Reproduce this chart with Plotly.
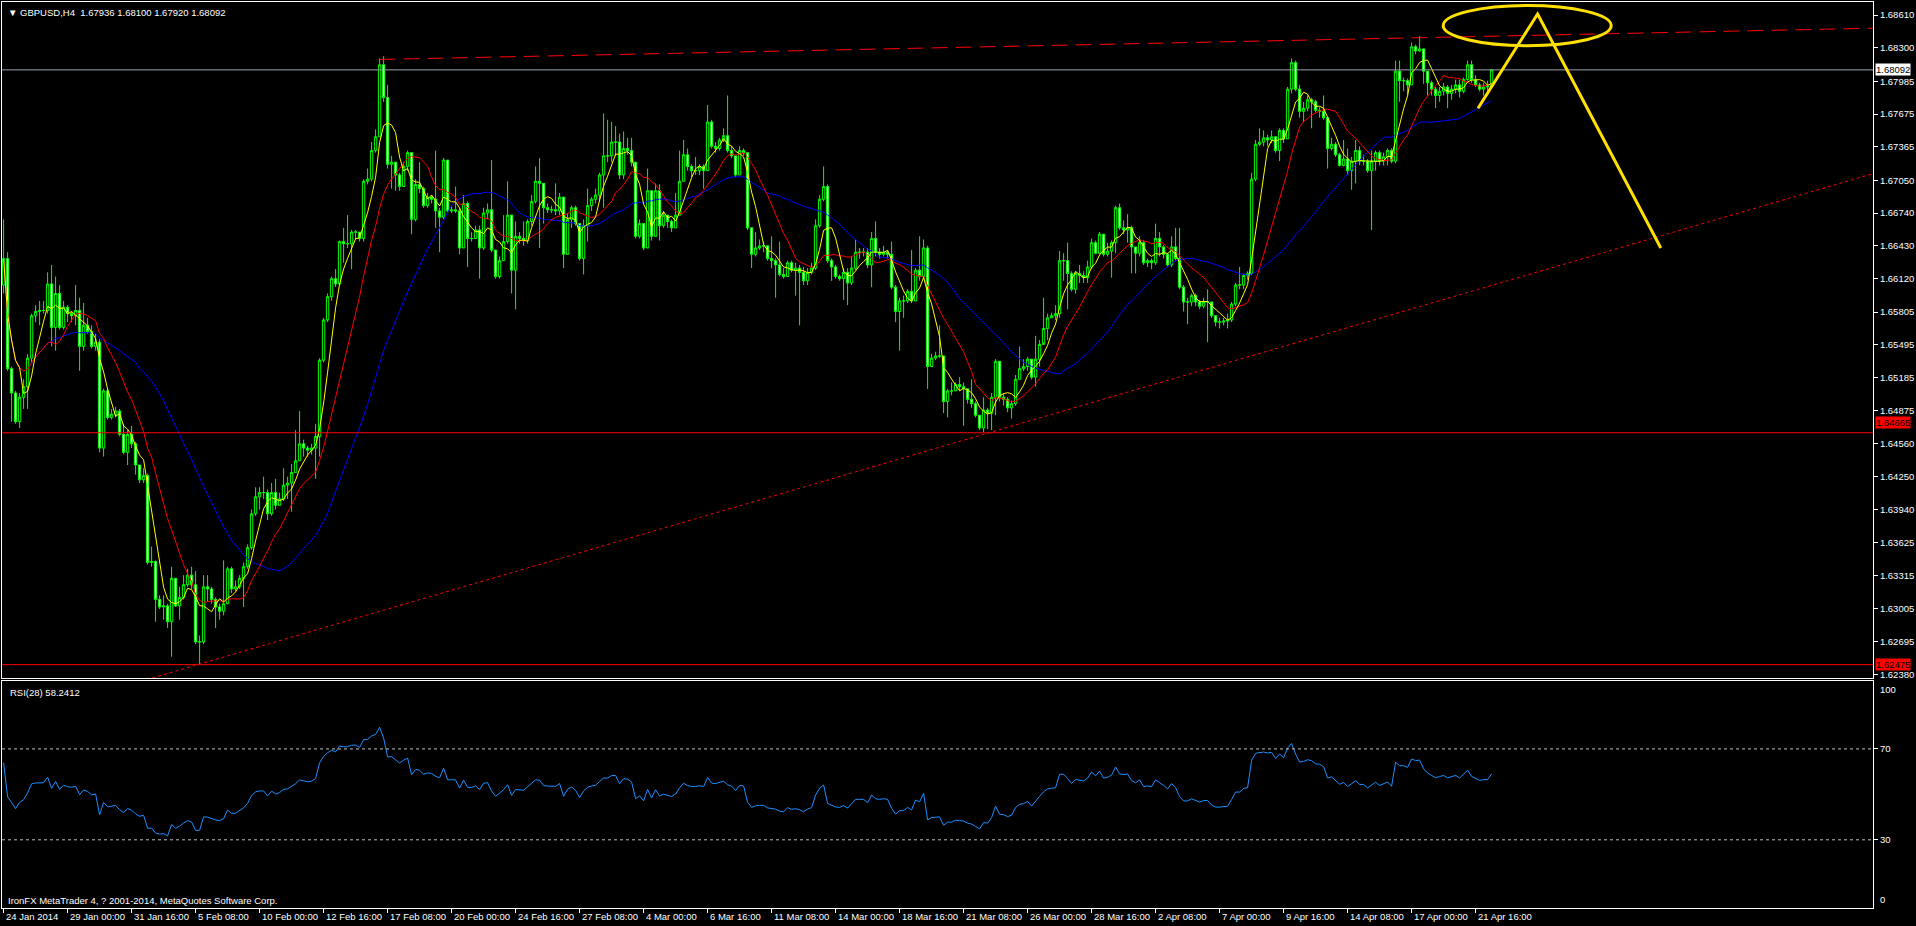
import plotly.graph_objects as go
import pandas as pd

# ---------------- text ----------------
title_text = "\u25BC GBPUSD,H4\u00a0\u00a01.67936 1.68100 1.67920 1.68092"
rsi_label = "RSI(28) 58.2412"
copyright_text = "IronFX MetaTrader 4, ? 2001-2014, MetaQuotes Software Corp."

time_labels = ["24 Jan 2014", "29 Jan 00:00", "31 Jan 16:00", "5 Feb 08:00", "10 Feb 00:00",
               "12 Feb 16:00", "17 Feb 08:00", "20 Feb 00:00", "24 Feb 16:00", "27 Feb 08:00",
               "4 Mar 00:00", "6 Mar 16:00", "11 Mar 08:00", "14 Mar 00:00", "18 Mar 16:00",
               "21 Mar 08:00", "26 Mar 00:00", "28 Mar 16:00", "2 Apr 08:00", "7 Apr 00:00",
               "9 Apr 16:00", "14 Apr 08:00", "17 Apr 00:00", "21 Apr 16:00"]
bars_per_label = 16

price_ticks = [1.68610, 1.68300, 1.67985, 1.67675, 1.67365, 1.67050, 1.66740, 1.66430,
               1.66120, 1.65805, 1.65495, 1.65185, 1.64875, 1.64560, 1.64250, 1.63940,
               1.63625, 1.63315, 1.63005, 1.62695, 1.62380]
rsi_ticks = [70, 30]

# ---------------- H4 candles (one row = 16 bars = one time label) ----------------
first_open = 1.6606
closes = [
    1.6631, 1.6527, 1.6504, 1.6477, 1.6500, 1.6510, 1.6537, 1.6577, 1.6581, 1.6582, 1.6582, 1.6607, 1.6566, 1.6598, 1.6566, 1.6585,
    1.6579, 1.6577, 1.6582, 1.6548, 1.6568, 1.6562, 1.6548, 1.6552, 1.6452, 1.6506, 1.6481, 1.6484, 1.6487, 1.6465, 1.6448, 1.6465,
    1.6456, 1.6436, 1.6422, 1.6426, 1.6344, 1.6345, 1.6309, 1.6302, 1.6303, 1.6288, 1.6329, 1.6303, 1.6311, 1.6323, 1.6332, 1.6323,
    1.6269, 1.6269, 1.6321, 1.6319, 1.6309, 1.6302, 1.6298, 1.6305, 1.6338, 1.6319, 1.6321, 1.6329, 1.6340, 1.6358, 1.6390, 1.6406,
    1.6410, 1.6410, 1.6390, 1.6410, 1.6398, 1.6404, 1.6417, 1.6419, 1.6429, 1.6440, 1.6456, 1.6452, 1.6450, 1.6452, 1.6463, 1.6535,
    1.6573, 1.6595, 1.6612, 1.6607, 1.6647, 1.6645, 1.6645, 1.6656, 1.6656, 1.6650, 1.6704, 1.6706, 1.6733, 1.6746, 1.6814, 1.6783,
    1.6720, 1.6722, 1.6710, 1.6699, 1.6718, 1.6731, 1.6668, 1.6701, 1.6697, 1.6681, 1.6689, 1.6687, 1.6676, 1.6670, 1.6724, 1.6676,
    1.6677, 1.6676, 1.6641, 1.6683, 1.6650, 1.6650, 1.6658, 1.6641, 1.6674, 1.6677, 1.6639, 1.6614, 1.6629, 1.6647, 1.6672, 1.6620,
    1.6652, 1.6650, 1.6648, 1.6666, 1.6685, 1.6704, 1.6702, 1.6679, 1.6677, 1.6677, 1.6676, 1.6689, 1.6635, 1.6668, 1.6679, 1.6664,
    1.6631, 1.6662, 1.6681, 1.6687, 1.6691, 1.6710, 1.6728, 1.6728, 1.6741, 1.6741, 1.6710, 1.6735, 1.6733, 1.6722, 1.6652, 1.6664,
    1.6641, 1.6695, 1.6652, 1.6695, 1.6662, 1.6672, 1.6666, 1.6660, 1.6672, 1.6704, 1.6729, 1.6718, 1.6714, 1.6714, 1.6718, 1.6714,
    1.6760, 1.6737, 1.6735, 1.6743, 1.6747, 1.6733, 1.6728, 1.6710, 1.6733, 1.6731, 1.6660, 1.6635, 1.6641, 1.6643, 1.6643, 1.6631,
    1.6629, 1.6625, 1.6616, 1.6614, 1.6627, 1.6620, 1.6622, 1.6618, 1.6610, 1.6618, 1.6622, 1.6662, 1.6687, 1.6699, 1.6629, 1.6623,
    1.6614, 1.6612, 1.6618, 1.6608, 1.6622, 1.6637, 1.6637, 1.6637, 1.6625, 1.6650, 1.6637, 1.6635, 1.6637, 1.6635, 1.6604, 1.6581,
    1.6591, 1.6591, 1.6600, 1.6591, 1.6620, 1.6614, 1.6641, 1.6529, 1.6537, 1.6539, 1.6539, 1.6496, 1.6506, 1.6506, 1.6512, 1.6510,
    1.6508, 1.6498, 1.6494, 1.6483, 1.6471, 1.6488, 1.6485, 1.6500, 1.6534, 1.6500, 1.6498, 1.6490, 1.6494, 1.6517, 1.6527, 1.6529,
    1.6536, 1.6519, 1.6536, 1.6550, 1.6565, 1.6575, 1.6577, 1.6579, 1.6629, 1.6629, 1.6617, 1.6602, 1.6617, 1.6615, 1.6613, 1.6623,
    1.6646, 1.6636, 1.6654, 1.6635, 1.6638, 1.6646, 1.6679, 1.6660, 1.6658, 1.6660, 1.6642, 1.6636, 1.6646, 1.6627, 1.6629, 1.6627,
    1.6650, 1.6642, 1.6635, 1.6625, 1.6642, 1.6631, 1.6604, 1.6590, 1.6590, 1.6596, 1.6590, 1.6586, 1.6590, 1.6590, 1.6577, 1.6571,
    1.6571, 1.6572, 1.6573, 1.6588, 1.6606, 1.6606, 1.6615, 1.6617, 1.6706, 1.6739, 1.6741, 1.6745, 1.6743, 1.6746, 1.6733, 1.6752,
    1.6744, 1.6791, 1.6816, 1.6791, 1.6770, 1.6773, 1.6781, 1.6779, 1.6771, 1.6770, 1.6764, 1.6735, 1.6739, 1.6729, 1.6719, 1.6725,
    1.6714, 1.6723, 1.6733, 1.6723, 1.6723, 1.6714, 1.6723, 1.6731, 1.6723, 1.6727, 1.6733, 1.6723, 1.6808, 1.6799, 1.6799, 1.6795,
    1.6831, 1.6827, 1.6829, 1.6808, 1.6797, 1.6791, 1.6785, 1.6789, 1.6793, 1.6787, 1.6791, 1.6795, 1.6789, 1.6800, 1.6814, 1.6800,
    1.6795, 1.6791, 1.6793, 1.67936, 1.68092,
]
highs = [
    1.6668, 1.6637, 1.6529, 1.6506, 1.6504, 1.6517, 1.6541, 1.6579, 1.6587, 1.6591, 1.6591, 1.6618, 1.6625, 1.6614, 1.6606, 1.6591,
    1.6587, 1.6581, 1.6606, 1.6594, 1.6589, 1.6575, 1.6568, 1.6560, 1.6555, 1.6508, 1.6508, 1.6489, 1.6491, 1.6489, 1.6475, 1.6469,
    1.6473, 1.6458, 1.6436, 1.6433, 1.6428, 1.6359, 1.6346, 1.6313, 1.6313, 1.6305, 1.6340, 1.6329, 1.6321, 1.6332, 1.6338, 1.6340,
    1.6336, 1.6275, 1.6332, 1.6332, 1.6321, 1.6311, 1.6305, 1.6346, 1.6340, 1.6340, 1.6327, 1.6332, 1.6344, 1.6361, 1.6394, 1.6415,
    1.6415, 1.6425, 1.6413, 1.6419, 1.6423, 1.6410, 1.6433, 1.6425, 1.6437, 1.6469, 1.6487, 1.6460, 1.6454, 1.6456, 1.6475, 1.6537,
    1.6575, 1.6598, 1.6614, 1.6621, 1.6648, 1.6660, 1.6672, 1.6658, 1.6658, 1.6656, 1.6706, 1.6716, 1.6741, 1.6753, 1.6820, 1.6822,
    1.6795, 1.6728, 1.6722, 1.6712, 1.6722, 1.6733, 1.6731, 1.6706, 1.6722, 1.6699, 1.6693, 1.6691, 1.6733, 1.6679, 1.6726, 1.6724,
    1.6681, 1.6699, 1.6679, 1.6691, 1.6685, 1.6656, 1.6662, 1.6662, 1.6679, 1.6683, 1.6724, 1.6639, 1.6633, 1.6672, 1.6704, 1.6672,
    1.6666, 1.6656, 1.6666, 1.6668, 1.6691, 1.6718, 1.6726, 1.6702, 1.6683, 1.6681, 1.6702, 1.6693, 1.6689, 1.6674, 1.6681, 1.6681,
    1.6664, 1.6668, 1.6697, 1.6689, 1.6697, 1.6712, 1.6768, 1.6762, 1.6760, 1.6756, 1.6749, 1.6751, 1.6745, 1.6745, 1.6722, 1.6668,
    1.6664, 1.6716, 1.6695, 1.6702, 1.6701, 1.6676, 1.6672, 1.6668, 1.6693, 1.6733, 1.6743, 1.6735, 1.6720, 1.6727, 1.6720, 1.6720,
    1.6776, 1.6762, 1.6741, 1.6745, 1.6754, 1.6785, 1.6737, 1.6729, 1.6737, 1.6735, 1.6731, 1.6660, 1.6656, 1.6649, 1.6647, 1.6643,
    1.6652, 1.6631, 1.6647, 1.6622, 1.6629, 1.6629, 1.6627, 1.6625, 1.6623, 1.6622, 1.6627, 1.6668, 1.6691, 1.6718, 1.6701, 1.6631,
    1.6625, 1.6616, 1.6622, 1.6622, 1.6633, 1.6649, 1.6641, 1.6641, 1.6641, 1.6656, 1.6666, 1.6641, 1.6643, 1.6639, 1.6647, 1.6606,
    1.6594, 1.6596, 1.6602, 1.6639, 1.6622, 1.6652, 1.6649, 1.6643, 1.6541, 1.6543, 1.6568, 1.6539, 1.6508, 1.6514, 1.6514, 1.6519,
    1.6514, 1.6508, 1.6517, 1.6496, 1.6483, 1.6500, 1.6490, 1.6504, 1.6536, 1.6534, 1.6504, 1.6500, 1.6497, 1.6521, 1.6548, 1.6536,
    1.6538, 1.6536, 1.6558, 1.6554, 1.6594, 1.6579, 1.6580, 1.6587, 1.6638, 1.6636, 1.6646, 1.6619, 1.6619, 1.6625, 1.6619, 1.6629,
    1.6650, 1.6648, 1.6656, 1.6654, 1.6646, 1.6648, 1.6681, 1.6683, 1.6667, 1.6673, 1.6662, 1.6642, 1.6652, 1.6648, 1.6631, 1.6631,
    1.6664, 1.6656, 1.6644, 1.6636, 1.6652, 1.6660, 1.6660, 1.6606, 1.6594, 1.6598, 1.6598, 1.6592, 1.6594, 1.6602, 1.6590, 1.6577,
    1.6575, 1.6575, 1.6579, 1.6590, 1.6608, 1.6623, 1.6617, 1.6619, 1.6712, 1.6743, 1.6754, 1.6752, 1.6748, 1.6752, 1.6746, 1.6754,
    1.6754, 1.6793, 1.6820, 1.6818, 1.6795, 1.6779, 1.6785, 1.6783, 1.6781, 1.6774, 1.6785, 1.6764, 1.6745, 1.6741, 1.6731, 1.6743,
    1.6735, 1.6727, 1.6743, 1.6737, 1.6729, 1.6725, 1.6733, 1.6733, 1.6733, 1.6731, 1.6735, 1.6735, 1.6818, 1.6818, 1.6802, 1.6801,
    1.6835, 1.6833, 1.6841, 1.6829, 1.6808, 1.6799, 1.6793, 1.6793, 1.6797, 1.6795, 1.6795, 1.6800, 1.6800, 1.6802, 1.6818, 1.6818,
    1.6804, 1.6797, 1.6797, 1.6799, 1.68100,
]
lows = [
    1.6598, 1.6525, 1.6477, 1.6475, 1.6471, 1.6489, 1.6489, 1.6533, 1.6571, 1.6568, 1.6579, 1.6579, 1.6548, 1.6544, 1.6564, 1.6564,
    1.6571, 1.6571, 1.6568, 1.6525, 1.6544, 1.6560, 1.6546, 1.6544, 1.6448, 1.6444, 1.6479, 1.6479, 1.6481, 1.6463, 1.6446, 1.6436,
    1.6452, 1.6427, 1.6419, 1.6419, 1.6342, 1.6340, 1.6288, 1.6300, 1.6290, 1.6282, 1.6255, 1.6302, 1.6290, 1.6309, 1.6321, 1.6319,
    1.6267, 1.6248, 1.6267, 1.6307, 1.6305, 1.6282, 1.6290, 1.6294, 1.6305, 1.6315, 1.6317, 1.6319, 1.6302, 1.6338, 1.6356, 1.6388,
    1.6394, 1.6404, 1.6384, 1.6388, 1.6394, 1.6398, 1.6402, 1.6404, 1.6392, 1.6429, 1.6440, 1.6444, 1.6444, 1.6446, 1.6423, 1.6444,
    1.6533, 1.6571, 1.6591, 1.6604, 1.6606, 1.6627, 1.6641, 1.6621, 1.6649, 1.6647, 1.6647, 1.6701, 1.6704, 1.6731, 1.6746, 1.6779,
    1.6716, 1.6697, 1.6695, 1.6695, 1.6699, 1.6714, 1.6654, 1.6666, 1.6693, 1.6679, 1.6679, 1.6683, 1.6660, 1.6637, 1.6668, 1.6674,
    1.6674, 1.6674, 1.6635, 1.6641, 1.6623, 1.6647, 1.6650, 1.6612, 1.6639, 1.6668, 1.6637, 1.6612, 1.6612, 1.6629, 1.6645, 1.6598,
    1.6583, 1.6645, 1.6643, 1.6645, 1.6662, 1.6683, 1.6641, 1.6664, 1.6674, 1.6674, 1.6672, 1.6672, 1.6622, 1.6635, 1.6660, 1.6662,
    1.6629, 1.6616, 1.6647, 1.6676, 1.6683, 1.6685, 1.6679, 1.6722, 1.6722, 1.6728, 1.6706, 1.6706, 1.6729, 1.6718, 1.6650, 1.6650,
    1.6639, 1.6641, 1.6648, 1.6652, 1.6648, 1.6660, 1.6660, 1.6656, 1.6660, 1.6672, 1.6704, 1.6714, 1.6708, 1.6710, 1.6710, 1.6697,
    1.6714, 1.6735, 1.6731, 1.6733, 1.6741, 1.6731, 1.6726, 1.6708, 1.6710, 1.6728, 1.6658, 1.6622, 1.6633, 1.6639, 1.6637, 1.6629,
    1.6622, 1.6594, 1.6614, 1.6612, 1.6614, 1.6618, 1.6596, 1.6568, 1.6606, 1.6606, 1.6616, 1.6620, 1.6660, 1.6685, 1.6627, 1.6610,
    1.6612, 1.6610, 1.6592, 1.6587, 1.6606, 1.6620, 1.6631, 1.6633, 1.6622, 1.6604, 1.6633, 1.6631, 1.6633, 1.6631, 1.6602, 1.6571,
    1.6544, 1.6575, 1.6589, 1.6589, 1.6591, 1.6610, 1.6614, 1.6508, 1.6529, 1.6535, 1.6537, 1.6485, 1.6481, 1.6502, 1.6506, 1.6506,
    1.6473, 1.6494, 1.6490, 1.6481, 1.6469, 1.6467, 1.6470, 1.6469, 1.6483, 1.6496, 1.6492, 1.6486, 1.6480, 1.6492, 1.6517, 1.6525,
    1.6525, 1.6517, 1.6510, 1.6529, 1.6552, 1.6554, 1.6575, 1.6573, 1.6575, 1.6610, 1.6583, 1.6600, 1.6598, 1.6608, 1.6608, 1.6608,
    1.6621, 1.6635, 1.6635, 1.6633, 1.6633, 1.6613, 1.6636, 1.6658, 1.6654, 1.6646, 1.6617, 1.6617, 1.6633, 1.6625, 1.6623, 1.6621,
    1.6625, 1.6633, 1.6631, 1.6623, 1.6623, 1.6629, 1.6602, 1.6581, 1.6569, 1.6586, 1.6586, 1.6583, 1.6584, 1.6552, 1.6575, 1.6567,
    1.6565, 1.6568, 1.6565, 1.6571, 1.6586, 1.6602, 1.6602, 1.6611, 1.6615, 1.6704, 1.6737, 1.6737, 1.6737, 1.6740, 1.6731, 1.6723,
    1.6740, 1.6744, 1.6787, 1.6789, 1.6764, 1.6760, 1.6770, 1.6754, 1.6769, 1.6764, 1.6762, 1.6716, 1.6733, 1.6727, 1.6718, 1.6718,
    1.6710, 1.6696, 1.6702, 1.6719, 1.6719, 1.6712, 1.6658, 1.6714, 1.6719, 1.6719, 1.6719, 1.6721, 1.6721, 1.6779, 1.6789, 1.6785,
    1.6795, 1.6824, 1.6826, 1.6796, 1.6785, 1.6785, 1.6773, 1.6779, 1.6785, 1.6773, 1.6781, 1.6787, 1.6783, 1.6787, 1.6799, 1.6797,
    1.6793, 1.6789, 1.6785, 1.6785, 1.67920,
]

# ---------------- levels and drawn objects (bar index, price) ----------------
bid_price = 1.68092
horizontal_levels = [1.64665, 1.62475]
resistance_bars = [94, 372]
resistance_prices = [1.6819, 1.6841]
support_bars = [49, 245]
support_prices = [1.6248, 1.6465]
arrow_bars = [368.6, 383.5, 414.3]
arrow_prices = [1.6773, 1.6862, 1.6641]
ellipse_bars = [359.9, 401.9]
ellipse_prices = [1.6832, 1.6870]

ma_fast, ma_mid, ma_slow = 5, 13, 34
rsi_period = 28
rsi_seed_gain, rsi_seed_loss = 0.0008, 0.00045   # RSI ~64 at the left edge

# ---------------- derived series ----------------
n = len(closes)
xs = list(range(n))
opens = [first_open] + closes[:-1]
cs = pd.Series(closes)
ma1 = cs.rolling(ma_fast, min_periods=1).mean()
ma2 = cs.rolling(ma_mid, min_periods=1).mean()
ma3 = cs.rolling(ma_slow, min_periods=1).mean()

ag, al = rsi_seed_gain, rsi_seed_loss
rsi = [100 * ag / (ag + al)]
for i in range(1, n):
    d = closes[i] - closes[i - 1]
    ag = (ag * (rsi_period - 1) + max(d, 0)) / rsi_period
    al = (al * (rsi_period - 1) + max(-d, 0)) / rsi_period
    rsi.append(100 * ag / (ag + al))

X0, X1 = -0.4, 467.35
Y0, Y1 = 1.623489, 1.687328


def extend(bx, py, xa, xb):
    k = (py[1] - py[0]) / (bx[1] - bx[0])
    return [xa, xb], [py[0] + k * (xa - bx[0]), py[0] + k * (xb - bx[0])]


FONT = "Liberation Sans, Arial, sans-serif"
WHITE = "#ffffff"

fig = go.Figure()
fig.add_trace(go.Candlestick(
    x=xs, open=opens, high=highs, low=lows, close=closes, xaxis="x", yaxis="y",
    increasing=dict(line=dict(color="#00ff00", width=1), fillcolor="#000000"),
    decreasing=dict(line=dict(color="#00ff00", width=1), fillcolor="#ffffff"),
    whiskerwidth=0, hoverinfo="skip"))
for ser, col in [(ma3, "#0000ff"), (ma2, "#ff0000"), (ma1, "#ffff00")]:
    fig.add_trace(go.Scatter(x=xs, y=ser, mode="lines", line=dict(color=col, width=1),
                             xaxis="x", yaxis="y", hoverinfo="skip"))

# horizontal levels
fig.add_trace(go.Scatter(x=[X0, X1], y=[bid_price, bid_price], mode="lines",
                         line=dict(color="#98a2ad", width=1), xaxis="x", yaxis="y"))
for lv in horizontal_levels:
    fig.add_trace(go.Scatter(x=[X0, X1], y=[lv, lv], mode="lines",
                             line=dict(color="#ff0000", width=1), xaxis="x", yaxis="y"))
# trend lines
rx, ry = extend(resistance_bars, resistance_prices, resistance_bars[0], X1)
fig.add_trace(go.Scatter(x=rx, y=ry, mode="lines", line=dict(color="#ff0000", width=1, dash="16px,8px"),
                         xaxis="x", yaxis="y"))
sx, sy = extend(support_bars, support_prices, 30, X1)
fig.add_trace(go.Scatter(x=sx, y=sy, mode="lines", line=dict(color="#ff0000", width=1, dash="3px,3px"),
                         xaxis="x", yaxis="y"))
# hand-drawn yellow markup
fig.add_trace(go.Scatter(x=arrow_bars, y=arrow_prices, mode="lines",
                         line=dict(color="#ffe000", width=3), xaxis="x", yaxis="y"))
fig.add_shape(type="circle", xref="x", yref="y", x0=ellipse_bars[0], x1=ellipse_bars[1],
              y0=ellipse_prices[0], y1=ellipse_prices[1], line=dict(color="#ffe000", width=3))

# RSI
fig.add_trace(go.Scatter(x=xs, y=rsi, mode="lines", line=dict(color="#1e90ff", width=1),
                         xaxis="x2", yaxis="y2", hoverinfo="skip"))
for lv in rsi_ticks:
    fig.add_trace(go.Scatter(x=[X0, X1], y=[lv, lv], mode="lines",
                             line=dict(color="#c0c0c0", width=1, dash="3px,3px"), xaxis="x2", yaxis="y2"))

ann = []
ann.append(dict(text=title_text, x=0, y=1, xref="paper", yref="paper", xanchor="left", yanchor="top",
                xshift=4, yshift=-3, showarrow=False, font=dict(family=FONT, size=9.5, color=WHITE)))
ann.append(dict(text=rsi_label, x=0, y=0.25083, xref="paper", yref="paper", xanchor="left", yanchor="top",
                xshift=6, yshift=-4, showarrow=False, font=dict(family=FONT, size=9.5, color=WHITE)))
ann.append(dict(text=copyright_text, x=0, y=0, xref="paper", yref="paper", xanchor="left", yanchor="bottom",
                xshift=4, yshift=0, showarrow=False, font=dict(family=FONT, size=9.5, color=WHITE)))
for k, lab in enumerate(time_labels):
    ann.append(dict(text=lab, x=k * bars_per_label, y=0, xref="x2", yref="paper", xanchor="left",
                    yanchor="top", xshift=0, yshift=-1, showarrow=False,
                    font=dict(family=FONT, size=9.5, color=WHITE)))
for lv, bg, ys in [(bid_price, "#ffffff", 0), (horizontal_levels[0], "#ff0000", 10), (horizontal_levels[1], "#ff0000", 0)]:
    ann.append(dict(text=f"{lv:.5f}", x=1, y=lv, xref="paper", yref="y", xanchor="left", yanchor="middle",
                    xshift=2, yshift=ys, showarrow=False, bgcolor=bg, borderpad=0,
                    font=dict(family=FONT, size=9.5, color="#000000")))
ann.append(dict(text="100", x=1, y=100, xref="paper", yref="y2", xanchor="left", yanchor="top",
                xshift=5, yshift=-1, showarrow=False, font=dict(family=FONT, size=9.5, color=WHITE)))
ann.append(dict(text="0", x=1, y=0, xref="paper", yref="y2", xanchor="left", yanchor="bottom",
                xshift=5, yshift=1, showarrow=False, font=dict(family=FONT, size=9.5, color=WHITE)))

axis_common = dict(showgrid=False, zeroline=False, showline=True, mirror=True, linecolor=WHITE, linewidth=1)
fig.update_layout(
    width=1916, height=926, margin=dict(l=2, r=43, t=2, b=18),
    paper_bgcolor="#000000", plot_bgcolor="#000000", showlegend=False,
    font=dict(family=FONT, size=9.5, color=WHITE), boxgap=0.15,
    xaxis=dict(domain=[0, 1], anchor="y", range=[X0, X1], showticklabels=False, ticks="",
               rangeslider=dict(visible=False), **axis_common),
    xaxis2=dict(domain=[0, 1], anchor="y2", matches="x", range=[X0, X1], showticklabels=False,
                tickvals=[k * bars_per_label for k in range(len(time_labels))], ticks="outside",
                ticklen=4, tickcolor=WHITE, rangeslider=dict(visible=False), **axis_common),
    yaxis=dict(domain=[0.25386, 1], anchor="x", range=[Y0, Y1], side="right",
               tickvals=price_ticks, ticktext=[f"{v:.5f}" for v in price_ticks],
               ticks="outside", ticklen=4, tickcolor=WHITE,
               tickfont=dict(family=FONT, size=9.5, color=WHITE), **axis_common),
    yaxis2=dict(domain=[0, 0.25083], anchor="x2", range=[0, 100], side="right",
                tickvals=rsi_ticks, ticktext=[str(v) for v in rsi_ticks], ticks="outside", ticklen=4,
                tickcolor=WHITE, tickfont=dict(family=FONT, size=9.5, color=WHITE), **axis_common),
    annotations=ann,
)
fig.write_html("out.html", config={"displayModeBar": False},
               post_script="document.body.style.margin='0px';document.body.style.overflow='hidden';")
